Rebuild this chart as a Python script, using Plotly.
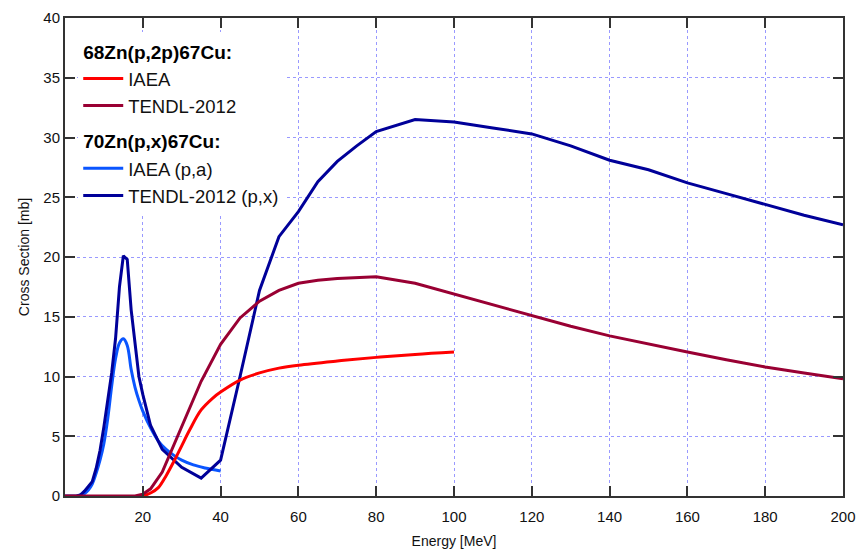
import plotly.graph_objects as go

# ---- data ----
e_iaea_2p = [20, 22, 24, 26, 28, 30, 32, 35, 38, 40, 45, 50, 55, 60, 70, 80, 90, 100]
s_iaea_2p = [0.0, 0.25, 0.7, 1.7, 2.9, 4.2, 5.5, 7.2, 8.2, 8.7, 9.7, 10.3, 10.7, 10.95, 11.3, 11.6, 11.85, 12.05]

e_tendl_2p = [0, 18, 20, 22, 25, 30, 35, 40, 45, 50, 55, 60, 65, 70, 75, 80, 90, 100,
              110, 120, 130, 140, 150, 160, 170, 180, 190, 200]
s_tendl_2p = [0.0, 0.0, 0.15, 0.6, 2.0, 5.8, 9.6, 12.7, 14.9, 16.3, 17.2, 17.8, 18.05, 18.2, 18.3, 18.35, 17.8, 16.9,
              16.0, 15.1, 14.2, 13.4, 12.7, 12.05, 11.4, 10.8, 10.3, 9.8]

e_iaea_pa = [3, 5, 6, 7, 8, 9, 10, 11, 12, 13, 14, 15, 16, 17, 18, 19, 20, 22, 24, 26, 28, 30, 33, 36, 40]
s_iaea_pa = [0.0, 0.2, 0.5, 1.0, 1.9, 3.0, 4.4, 6.5, 9.2, 11.5, 12.8, 13.15, 12.6, 10.6, 9.1, 8.0, 7.1, 5.7, 4.6, 3.9, 3.4, 3.0, 2.6, 2.35, 2.1]

e_tendl_px = [0, 3, 4, 5, 6, 7, 8, 9, 10, 11, 12, 13, 14, 15, 16, 17, 18, 19, 20, 22, 25, 30, 35, 40, 45, 50,
              55, 60, 65, 70, 75, 80, 90, 100, 110, 120, 130, 140, 150, 160, 170, 180, 190, 200]
s_tendl_px = [0.0, 0.0, 0.1, 0.4, 0.8, 1.2, 2.3, 3.8, 5.8, 8.0, 10.3, 13.2, 17.5, 20.1, 19.8, 15.6, 12.5, 10.0, 8.5, 5.9, 3.9, 2.4, 1.5, 3.0, 10.0, 17.2,
              21.7, 23.8, 26.3, 28.0, 29.3, 30.5, 31.5, 31.3, 30.8, 30.3, 29.3, 28.1, 27.3, 26.2, 25.3, 24.4, 23.5, 22.7]

x_ticks = [20, 40, 60, 80, 100, 120, 140, 160, 180, 200]
y_ticks = [0, 5, 10, 15, 20, 25, 30, 35, 40]

group1 = "68Zn(p,2p)67Cu:"
group2 = "70Zn(p,x)67Cu:"

fig = go.Figure()

fig.add_trace(go.Scatter(x=e_iaea_pa, y=s_iaea_pa, mode="lines", name="IAEA (p,a)",
                         line=dict(color="#0a55ff", width=3, shape="spline"),
                         legendgroup="g2", legendgrouptitle_text=group2, legendrank=3))
fig.add_trace(go.Scatter(x=e_tendl_px, y=s_tendl_px, mode="lines", name="TENDL-2012 (p,x)",
                         line=dict(color="#000099", width=3),
                         legendgroup="g2", legendgrouptitle_text=group2, legendrank=4))
fig.add_trace(go.Scatter(x=e_iaea_2p, y=s_iaea_2p, mode="lines", name="IAEA",
                         line=dict(color="#ff0000", width=3, shape="spline"),
                         legendgroup="g1", legendgrouptitle_text=group1, legendrank=1))
fig.add_trace(go.Scatter(x=e_tendl_2p, y=s_tendl_2p, mode="lines", name="TENDL-2012",
                         line=dict(color="#990033", width=3),
                         legendgroup="g1", legendgrouptitle_text=group1, legendrank=2))

axis_common = dict(
    showline=True, linecolor="#333333", linewidth=2, mirror="allticks",
    ticks="inside", ticklen=10, tickwidth=1.5, tickcolor="#333333",
    showgrid=True, gridcolor="#9999ff", gridwidth=1, griddash="dot",
    zeroline=False, tickfont=dict(size=15, color="#111111"), automargin=False,
)

fig.update_xaxes(range=[0, 200], tickvals=x_ticks, ticklabelstandoff=6, **axis_common,
                 title=dict(text="Energy [MeV]", font=dict(size=14, color="#111111"), standoff=12))
fig.update_yaxes(range=[0, 40], tickvals=y_ticks, **axis_common,
                 title=dict(text="Cross Section [mb]", font=dict(size=14, color="#111111"), standoff=10))

fig.update_layout(
    width=856, height=549,
    margin=dict(l=65, r=13, t=18, b=53, autoexpand=False),
    paper_bgcolor="white", plot_bgcolor="white",
    font=dict(family="Liberation Sans, Arial, sans-serif", color="#111111"),
    legend=dict(x=0.017, y=0.970, xanchor="left", yanchor="top",
                bgcolor="white", borderwidth=0,
                font=dict(size=18.5, color="#111111"),
                grouptitlefont=dict(size=19, color="#000000", weight="bold"),
                traceorder="grouped", tracegroupgap=8, itemwidth=40),
    showlegend=True,
)

fig.write_html("out.html")
